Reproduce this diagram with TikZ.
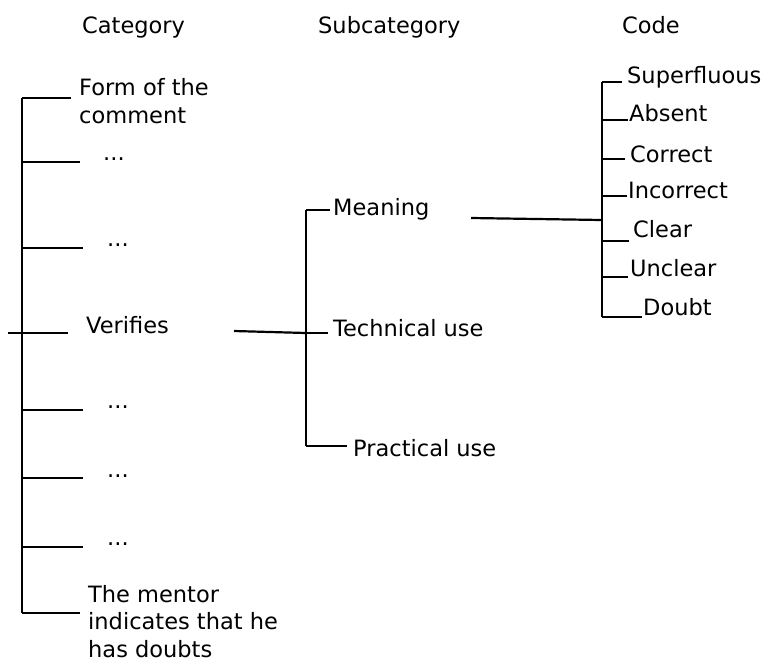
\documentclass[tikz,border=0pt]{standalone}
\usepackage{fontspec}
\setmainfont{DejaVu Sans}
\begin{document}
\begin{tikzpicture}[x=1pt,y=-1pt,
  lbl/.style={anchor=base west, inner sep=0pt, font=\fontsize{22.5}{28}\selectfont},
  mlbl/.style={anchor=north west, inner sep=0pt, align=left, font=\fontsize{22.5}{28}\selectfont},
  link/.style={draw=black, line width=2.2pt}]
\useasboundingbox (0,0) rectangle (768,664);

% headers
\node[lbl] (hcat) at (82,33) {Category};
\node[lbl] (hsub) at (318,33) {Subcategory};
\node[lbl] (hcode) at (622,33) {Code};

% category labels
\node[mlbl] (form) at (79,78) {Form of the\\comment};
\node[lbl] (d1) at (103,160) {...};
\node[lbl] (d2) at (107,246) {...};
\node[lbl] (ver) at (86,333) {Verifies};
\node[lbl] (d3) at (107,408) {...};
\node[lbl] (d4) at (107,477) {...};
\node[lbl] (d5) at (107,545) {...};
\node[mlbl, font=\fontsize{22.5}{27.5}\selectfont] (mentor) at (88,585) {The mentor\\indicates that he\\has doubts};

% subcategory labels
\node[lbl] (mean) at (333,215) {Meaning};
\node[lbl] (tech) at (333,336) {Technical use};
\node[lbl] (prac) at (353,456) {Practical use};

% code labels
\node[lbl] (sup) at (627,83) {Superfluous};
\node[lbl] (abs) at (629,121) {Absent};
\node[lbl] (cor) at (630,162) {Correct};
\node[lbl] (inc) at (628,198) {Incorrect};
\node[lbl] (cle) at (633,237) {Clear};
\node[lbl] (unc) at (630,276) {Unclear};
\node[lbl] (dou) at (643,315) {Doubt};

% category tree
\coordinate (c0) at (22,98);  \coordinate (e0) at (71,98);
\coordinate (c1) at (22,162); \coordinate (e1) at (80,162);
\coordinate (c2) at (22,248); \coordinate (e2) at (83,248);
\coordinate (c3s) at (8,333); \coordinate (e3) at (68,333);
\coordinate (c4) at (22,410); \coordinate (e4) at (83,410);
\coordinate (c5) at (22,478); \coordinate (e5) at (83,478);
\coordinate (c6) at (22,547); \coordinate (e6) at (83,547);
\coordinate (c7) at (22,613); \coordinate (e7) at (80,613);
\draw[link] (c0) -- (c7);
\draw[link] (c0) -- (e0);
\draw[link] (c1) -- (e1);
\draw[link] (c2) -- (e2);
\draw[link] (c3s) -- (e3);
\draw[link] (c4) -- (e4);
\draw[link] (c5) -- (e5);
\draw[link] (c6) -- (e6);
\draw[link] (c7) -- (e7);

% verifies -> subcategory
\coordinate (vs) at (234,331);
\coordinate (s0) at (306,210); \coordinate (f0) at (330,210);
\coordinate (s1) at (306,333); \coordinate (f1) at (328,333);
\coordinate (s2) at (306,446); \coordinate (f2) at (347,446);
\draw[link] (vs) -- (s1);
\draw[link] (s0) -- (s2);
\draw[link] (s0) -- (f0);
\draw[link] (s1) -- (f1);
\draw[link] (s2) -- (f2);

% meaning -> code
\coordinate (ms) at (471,218);
\coordinate (k0) at (602,82);  \coordinate (g0) at (622,82);
\coordinate (k1) at (602,120); \coordinate (g1) at (628,120);
\coordinate (k2) at (602,159); \coordinate (g2) at (625,159);
\coordinate (k3) at (602,196); \coordinate (g3) at (627,196);
\coordinate (kj) at (602,220);
\coordinate (k4) at (602,241); \coordinate (g4) at (629,241);
\coordinate (k5) at (602,277); \coordinate (g5) at (628,277);
\coordinate (k6) at (602,317); \coordinate (g6) at (642,317);
\draw[link] (ms) -- (kj);
\draw[link] (k0) -- (k6);
\draw[link] (k0) -- (g0);
\draw[link] (k1) -- (g1);
\draw[link] (k2) -- (g2);
\draw[link] (k3) -- (g3);
\draw[link] (k4) -- (g4);
\draw[link] (k5) -- (g5);
\draw[link] (k6) -- (g6);
\end{tikzpicture}
\end{document}
